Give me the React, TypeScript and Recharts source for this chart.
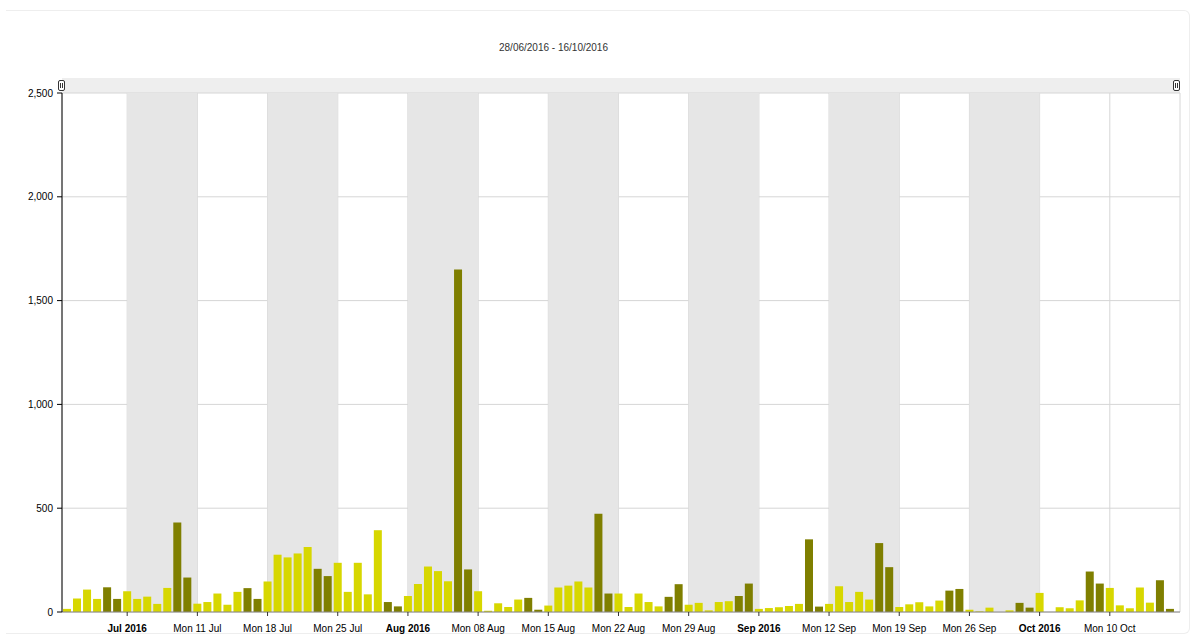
import React from 'react';
import { BarChart, Bar, XAxis, YAxis, CartesianGrid, ReferenceArea, Cell } from 'recharts';

// Daily values, 28/06/2016 .. 16/10/2016 (111 days)
const dailyValues = [
  15, 65, 108, 63, 119, 63, 100, 63, 74, 39,
  116, 431, 166, 40, 48, 89, 35, 97, 115, 63,
  147, 276, 263, 282, 313, 208, 173, 237, 97, 237,
  85, 394, 48, 27, 77, 135, 219, 197, 148, 1650,
  205, 100, 6, 42, 24, 60, 68, 11, 31, 118,
  127, 147, 118, 473, 89, 89, 24, 89, 48, 27,
  73, 134, 35, 44, 8, 48, 52, 77, 137, 15,
  19, 23, 29, 39, 350, 26, 39, 124, 48, 97,
  60, 332, 216, 24, 37, 47, 27, 55, 103, 111,
  11, 3, 21, 0, 8, 44, 21, 92, 0, 23,
  18, 56, 195, 137, 116, 32, 18, 118, 45, 153,
  15,
];

const mondayTicks = [6, 13, 20, 27, 34, 41, 48, 55, 62, 69, 76, 83, 90, 97, 104];
const mondayLabels = [
  'Jul 2016', 'Mon 11 Jul', 'Mon 18 Jul', 'Mon 25 Jul', 'Aug 2016', 'Mon 08 Aug', 'Mon 15 Aug',
  'Mon 22 Aug', 'Mon 29 Aug', 'Sep 2016', 'Mon 12 Sep', 'Mon 19 Sep', 'Mon 26 Sep', 'Oct 2016', 'Mon 10 Oct',
];
const boldLabels = ['Jul 2016', 'Aug 2016', 'Sep 2016', 'Oct 2016'];
const shadedWeekStarts = [6, 20, 34, 48, 62, 76, 90];
const yTicks = [0, 500, 1000, 1500, 2000, 2500];

const LIGHT = '#d7d700';
const DARK = '#7f7f00';
const FONT = '"Liberation Sans", Arial, sans-serif';

const data = dailyValues.map((v, i) => {
  const d = new Date(2016, 5, 28 + i);
  const dow = d.getDay();
  return { idx: i, value: v, weekend: dow === 0 || dow === 6 };
});

const XTick = (props: any) => {
  const { x, y, payload } = props;
  const pos = mondayTicks.indexOf(payload.value);
  const label = pos >= 0 ? mondayLabels[pos] : '';
  const bold = boldLabels.includes(label);
  return (
    <text x={x} y={y + 14} textAnchor="middle" fontSize={10} fontFamily={FONT}
      fontWeight={bold ? 'bold' : 'normal'} fill="#000">
      {label}
    </text>
  );
};

const Grip = ({ left, top }: { left: number; top: number }) => (
  <svg width={8} height={12} style={{ position: 'absolute', left, top }}>
    <rect x={0.5} y={0.5} width={6} height={10} rx={1.5} fill="#fff" stroke="#333" />
    <line x1={2.5} y1={3} x2={2.5} y2={8} stroke="#333" />
    <line x1={4.5} y1={3} x2={4.5} y2={8} stroke="#333" />
  </svg>
);

export default function App() {
  return (
    <div style={{ position: 'absolute', left: 0, top: 0, width: 1192, height: 641, background: '#fff', fontFamily: FONT }}>
      <div style={{
        position: 'absolute', left: 6, top: 10, width: 1183, height: 622,
        borderTop: '1px solid #eeeeee', borderRight: '1px solid #eeeeee', borderBottom: '1px solid #eeeeee',
        borderTopRightRadius: 6, borderBottomRightRadius: 6,
      }} />
      <div style={{ position: 'absolute', left: 499, top: 42, fontSize: 10, lineHeight: '12px', color: '#333', whiteSpace: 'nowrap' }}>
        28/06/2016 - 16/10/2016
      </div>
      <div style={{ position: 'absolute', left: 62, top: 78, width: 1118, height: 15, background: '#eeeeee' }} />
      <div style={{ position: 'absolute', left: 0, top: 0 }}>
        <BarChart width={1192} height={641} data={data}
          margin={{ top: 93, right: 12, bottom: 0, left: 0 }} style={{ fontFamily: FONT }}>
          <CartesianGrid stroke="#d6d6d6" />
          {shadedWeekStarts.map((s) => (
            <ReferenceArea key={s} x1={s} x2={s + 7} fill="#e6e6e6" fillOpacity={1} stroke="none" ifOverflow="visible" />
          ))}
          <XAxis type="number" dataKey="idx" domain={[-0.5, 110.5]} ticks={mondayTicks} interval={0}
            allowDecimals={false} height={29} tickSize={4} stroke="#888" tick={<XTick />}
            tickLine={{ stroke: '#333' }} axisLine={{ stroke: '#888' }} />
          <YAxis domain={[0, 2500]} ticks={yTicks} width={62} tickSize={5} tickMargin={4}
            interval={0} tickFormatter={(v: number) => v.toLocaleString('en-US')}
            tick={{ fill: '#000', fontSize: 10, fontFamily: FONT }}
            axisLine={{ stroke: '#000' }} tickLine={{ stroke: '#000' }} />
          <Bar dataKey="value" barSize={8} isAnimationActive={false}>
            {data.map((d) => (
              <Cell key={d.idx} fill={d.weekend ? DARK : LIGHT} />
            ))}
          </Bar>
        </BarChart>
      </div>
      <Grip left={58} top={80} />
      <Grip left={1173} top={80} />
    </div>
  );
}
